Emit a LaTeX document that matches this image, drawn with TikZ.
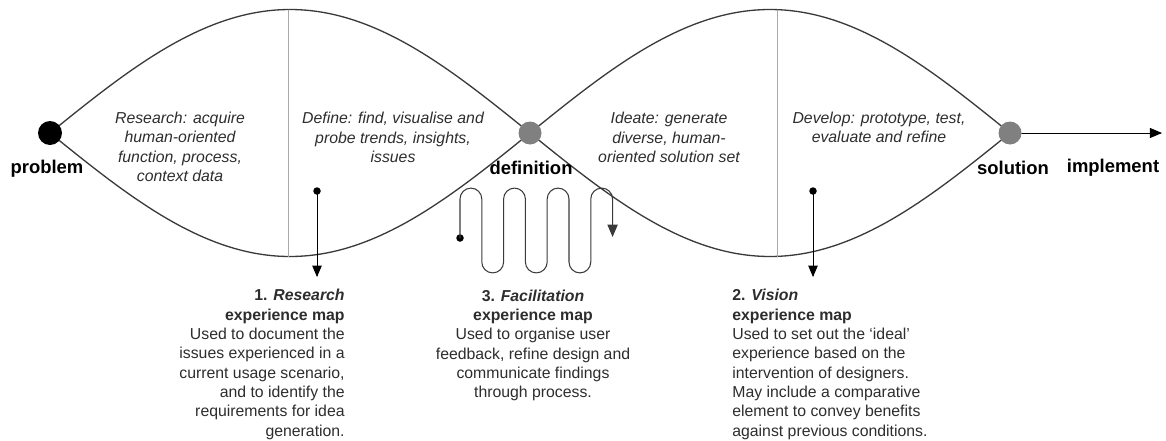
\documentclass[tikz,border=0pt]{standalone}
\usepackage{fontspec}
\setmainfont{Liberation Sans}
\usetikzlibrary{arrows}
\definecolor{curvegray}{RGB}{58,58,58}
\definecolor{thingray}{RGB}{170,170,170}
\definecolor{dotgray}{RGB}{128,128,128}
\definecolor{textgray}{RGB}{45,45,45}

\begin{document}
\begin{tikzpicture}[line cap=round,line join=round,>=triangle 45,x=0.02cm,y=-0.02cm,
    bigdot/.style={circle,inner sep=0pt,minimum size=0.46cm},
    smalldot/.style={circle,fill=black,inner sep=0pt,minimum size=0.15cm},
    stage/.style={font=\fontsize{10.5}{12}\selectfont\bfseries},
    phase/.style={font=\fontsize{9}{11}\selectfont\itshape,text=textgray,align=center,inner sep=0pt},
    mapnote/.style={font=\fontsize{9}{11}\selectfont,text=textgray,inner sep=0pt}]
    \useasboundingbox (0,0) rectangle (1166,440);
    % the two crossing strands
    \draw[color=curvegray,line width=0.75pt] plot[domain=50:1010,samples=240,smooth] (\x,{133-123.5*sin(0.375*(\x-50))});
    \draw[color=curvegray,line width=0.75pt] plot[domain=50:1010,samples=240,smooth] (\x,{133+123.5*sin(0.375*(\x-50))});
    \draw[color=thingray,line width=0.4pt] (288,10) -- (288,257);
    \draw[color=thingray,line width=0.4pt] (777,10) -- (777,257);
    % stages
    \node[bigdot,fill=black,minimum size=0.48cm] (problem) at (50,133) {};
    \node[bigdot,fill=dotgray] (definition) at (530,133) {};
    \node[bigdot,fill=dotgray] (solution) at (1010,133) {};
    \coordinate (impend) at (1162,133);
    \draw[->,color=black,line width=0.55pt] (solution) -- (impend);
    \node[stage] (problemlab) at (47,169) {problem};
    \node[stage] (definitionlab) at (531,168) {definition};
    \node[stage] (solutionlab) at (1013,168) {solution};
    \node[stage] (implementlab) at (1113,168) {implement};
    % phases
    \node[phase] (research) at (180,147) {Research: acquire\\human-oriented\\function, process,\\context data};
    \node[phase] (define) at (393,137.5) {Define: find, visualise and\\probe trends, insights,\\issues};
    \node[phase] (ideate) at (669,137.5) {Ideate: generate\\diverse, human-\\oriented solution set};
    \node[phase] (develop) at (879,127.5) {Develop: prototype, test,\\evaluate and refine};
    % map pointers
    \node[smalldot] (rdot) at (317,191) {};
    \coordinate (rend) at (317,277);
    \draw[->,color=black,line width=0.45pt] (rdot.center) -- (rend);
    \node[smalldot] (vdot) at (813,191) {};
    \coordinate (vend) at (813,277);
    \draw[->,color=black,line width=0.45pt] (vdot.center) -- (vend);
    \node[smalldot] (fdot) at (460,238) {};
    \draw[->,color=curvegray,line width=0.6pt] (fdot.center) -- ++(0,-39)
        \foreach \k in {1,2,3} {
            arc[start angle=180,end angle=0,radius=0.218cm] -- ++(0,63)
            arc[start angle=180,end angle=360,radius=0.218cm] -- ++(0,-63)
        }
        arc[start angle=180,end angle=0,radius=0.218cm] -- ++(0,38);
    % map notes
    \node[mapnote,align=right,anchor=east] (researchmap) at (345,364.5) {\textbf{1. \textit{Research}}\\\textbf{experience map}\\Used to document the\\issues experienced in a\\current usage scenario,\\and to identify the\\requirements for idea\\generation.};
    \node[mapnote,align=center] (facilmap) at (533,345.5) {\textbf{3. \textit{Facilitation}}\\\textbf{experience map}\\Used to organise user\\feedback, refine design and\\communicate findings\\through process.};
    \node[mapnote,align=left,anchor=west] (visionmap) at (732,364.5) {\textbf{2. \textit{Vision}}\\\textbf{experience map}\\Used to set out the ‘ideal’\\experience based on the\\intervention of designers.\\May include a comparative\\element to convey benefits\\against previous conditions.};
\end{tikzpicture}
\end{document}
